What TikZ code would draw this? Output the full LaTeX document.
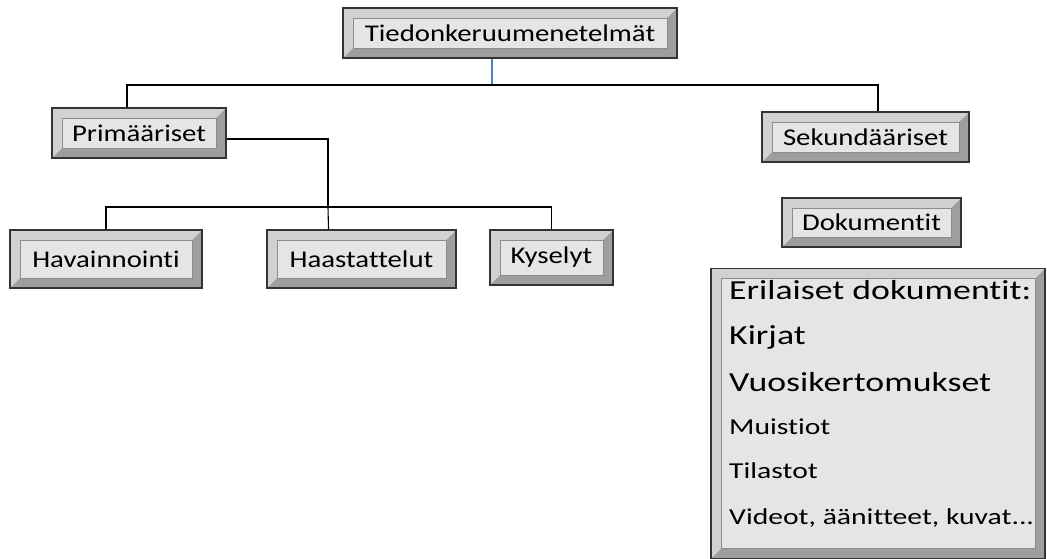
\documentclass[tikz,border=0pt]{standalone}
\usepackage{fontspec}
\setmainfont{Carlito}[FakeStretch=1.2, Ligatures=NoCommon]
\newfontfamily\listfont{Carlito}[FakeStretch=1.3, Ligatures=NoCommon]
\usetikzlibrary{positioning, calc}

\definecolor{linkblue}{HTML}{4A7FD0}
\tikzset{
  bevel/.style={draw=black!80, line width=1.3pt, inner sep=0pt,
    font=\fontsize{24}{28}\selectfont,
    path picture={
      \fill[black!38] (path picture bounding box.south west) rectangle (path picture bounding box.north east);
      \fill[black!18] (path picture bounding box.south west) -- (path picture bounding box.north west) -- (path picture bounding box.north east)
        -- ([shift={(-10pt,-10pt)}]path picture bounding box.north east) -- ([shift={(10pt,-10pt)}]path picture bounding box.north west)
        -- ([shift={(10pt,10pt)}]path picture bounding box.south west) -- cycle;
      \fill[black!10] ([shift={(10pt,10pt)}]path picture bounding box.south west) rectangle ([shift={(-10pt,-10pt)}]path picture bounding box.north east);
      \draw[black!45, line width=0.6pt] ([shift={(10pt,10pt)}]path picture bounding box.south west) rectangle ([shift={(-10pt,-10pt)}]path picture bounding box.north east);
    }},
  bigline/.style={anchor=west, inner sep=0pt, font=\listfont\fontsize{27.5}{31}\selectfont},
  smallline/.style={anchor=west, inner sep=0pt, font=\listfont\fontsize{22.8}{26}\selectfont},
  tree/.style={draw=black, line width=1.1pt}
}

\begin{document}
\begin{tikzpicture}[x=1pt, y=-1pt]
  \useasboundingbox (0,0) rectangle (1047,559);

  % Boxes
  \node[bevel, minimum width=334pt, minimum height=50pt] (top) at (510,33) {Tiedonkeruumenetelmät};
  \node[bevel, minimum width=174pt, minimum height=50pt] (prim) at (139,133) {Primääriset};
  \node[bevel, minimum width=207pt, minimum height=50pt] (sek) at (865.5,137) {Sekundääriset};
  \node[bevel, minimum width=192pt, minimum height=58pt] (hav) at (106,259) {Havainnointi};
  \node[bevel, minimum width=189pt, minimum height=58pt] (haas) at (361.5,259) {Haastattelut};
  \node[bevel, minimum width=123pt, minimum height=55pt] (kys) at (551.5,257.5) {Kyselyt};
  \node[bevel, minimum width=179pt, minimum height=49pt] (dok) at (871.5,222.5) {Dokumentit};
  \node[bevel, minimum width=334pt, minimum height=290pt] (docs) at (878,413.5) {};

  % Document list
  \node[bigline] (item1) at (729,290) {Erilaiset dokumentit:};
  \node[bigline] (item2) at (729,337) {Kirjat};
  \node[bigline] (item3) at (729,382) {Vuosikertomukset};
  \node[smallline] (item4) at (729,427) {Muistiot};
  \node[smallline] (item5) at (729,471) {Tilastot};
  \node[smallline] (item6) at (729,518) {Videot, äänitteet, kuvat...};

  % Connectors
  \coordinate (root) at (492,85);
  \coordinate (split) at (328,207);
  \draw[linkblue, line width=1.2pt] (top.south -| root) -- (root);
  \draw[tree] ([xshift=-12pt]prim.north) |- (root) -| ([xshift=12.5pt]sek.north);
  \draw[tree] ([yshift=-6pt]prim.east) -| (split);
  \draw[tree] (hav.north) |- (split) -| (kys.north);
  \draw[tree] ([xshift=-33pt]haas.north) -- (split);
\end{tikzpicture}
\end{document}
